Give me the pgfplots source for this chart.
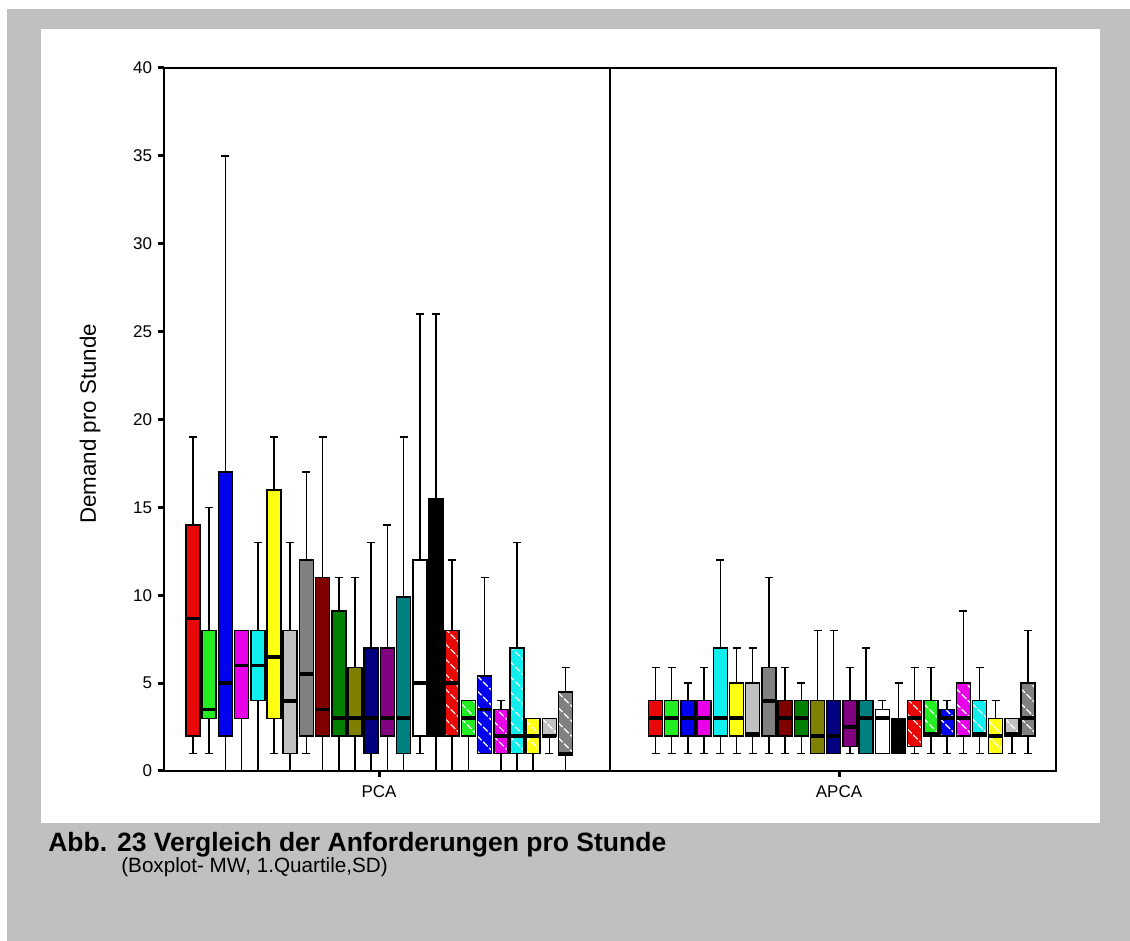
\documentclass[border=0pt]{standalone}
\usepackage{pgfplots}
\pgfplotsset{compat=1.18}
\usepgfplotslibrary{statistics}
\usepackage{fontspec}
\setmainfont{Liberation Sans}
\definecolor{bg}{HTML}{C0C0C0}
\definecolor{cred}{HTML}{E80808}
\definecolor{clime}{HTML}{22EE22}
\definecolor{cblue}{HTML}{0000EE}
\definecolor{cmag}{HTML}{E800E8}
\definecolor{ccyan}{HTML}{11EEEE}
\definecolor{cyel}{HTML}{FFFF11}
\definecolor{csil}{HTML}{C0C0C0}
\definecolor{cgray}{HTML}{808080}
\definecolor{cmar}{HTML}{800000}
\definecolor{cgreen}{HTML}{008000}
\definecolor{colive}{HTML}{808000}
\definecolor{cnavy}{HTML}{000080}
\definecolor{cpurp}{HTML}{800080}
\definecolor{cteal}{HTML}{008080}
\pgfplotsset{
  solidbox/.style={solid, draw=black, fill=#1},
  hatchbox/.style={solid, draw=black, fill=#1,
    boxplot/draw/box/.code={%
      \draw[/pgfplots/boxplot/every box/.try] (boxplot box cs:\pgfplotsboxplotvalue{lower quartile},0) rectangle (boxplot box cs:\pgfplotsboxplotvalue{upper quartile},1);
      \begin{scope}
        \clip (boxplot box cs:\pgfplotsboxplotvalue{lower quartile},0) rectangle (boxplot box cs:\pgfplotsboxplotvalue{upper quartile},1);
        \foreach \k in {0,...,16} {\path[draw=white, fill=none, line width=0.7pt, dash pattern=on 4pt off 1.2pt] ([xshift=-12pt,yshift=\k*9pt]boxplot box cs:\pgfplotsboxplotvalue{lower quartile},0.5) -- ++(24pt,-24pt);}
      \end{scope}
      \path[draw=black, fill=none, solid, line width=0.9pt] (boxplot box cs:\pgfplotsboxplotvalue{lower quartile},0) rectangle (boxplot box cs:\pgfplotsboxplotvalue{upper quartile},1);
    }},
}
\begin{document}
\begin{tikzpicture}
\fill[white] (0,0) rectangle (678pt,564.6pt);
\fill[bg] (4.2pt,0) rectangle (678pt,559.2pt);
\fill[white] (24.6pt,70.8pt) rectangle (660pt,547.2pt);
\begin{axis}[
  at={(98.4pt,102pt)}, anchor=south west,
  scale only axis, width=535.2pt, height=421.8pt,
  xmin=164, xmax=1056, ymin=0, ymax=40,
  ytick={0,5,...,40},
  xtick={379,839}, xticklabels={PCA,APCA},
  xtick pos=bottom, ytick pos=left,
  tick align=outside, major tick length=3.6pt,
  tick style={line width=1.8pt, black},
  axis line style={line width=0.9pt},
  tick label style={font=\fontsize{10.2}{12}\selectfont},
  xticklabel style={yshift=-1.8pt},
  /pgf/number format/assume math mode=true,
  extra x ticks={610}, extra x tick labels={},
  extra x tick style={grid=major, major grid style={line width=0.9pt, black}, major tick length=0pt},
  boxplot/draw direction=y,
  boxplot/box extend=14, boxplot/whisker extend=8,
  boxplot/every median/.style={solid, line width=2.2pt, draw=black},
  boxplot/every whisker/.style={solid, line width=0.9pt, draw=black},
  boxplot/every box/.style={solid, line width=0.9pt, draw=black},
]
% PCA  (lower whisker, lower quartile, median, upper quartile, upper whisker)
\addplot[solidbox=cred, boxplot prepared={draw position=193.0, lower whisker=1, lower quartile=2, median=8.67, upper quartile=14, upper whisker=19}] coordinates {};
\addplot[solidbox=clime, boxplot prepared={draw position=209.2, lower whisker=1, lower quartile=3, median=3.5, upper quartile=8, upper whisker=15}] coordinates {};
\addplot[solidbox=cblue, boxplot prepared={draw position=225.4, lower whisker=0, lower quartile=2, median=5, upper quartile=17, upper whisker=35}] coordinates {};
\addplot[solidbox=cmag, boxplot prepared={draw position=241.6, lower whisker=0, lower quartile=3, median=6, upper quartile=8, upper whisker=8}] coordinates {};
\addplot[solidbox=ccyan, boxplot prepared={draw position=257.8, lower whisker=0, lower quartile=4, median=6, upper quartile=8, upper whisker=13}] coordinates {};
\addplot[solidbox=cyel, boxplot prepared={draw position=274.0, lower whisker=1, lower quartile=3, median=6.5, upper quartile=16, upper whisker=19}] coordinates {};
\addplot[solidbox=csil, boxplot prepared={draw position=290.2, lower whisker=0, lower quartile=1, median=4, upper quartile=8, upper whisker=13}] coordinates {};
\addplot[solidbox=cgray, boxplot prepared={draw position=306.4, lower whisker=1, lower quartile=2, median=5.5, upper quartile=12, upper whisker=17}] coordinates {};
\addplot[solidbox=cmar, boxplot prepared={draw position=322.6, lower whisker=0, lower quartile=2, median=3.5, upper quartile=11, upper whisker=19}] coordinates {};
\addplot[solidbox=cgreen, boxplot prepared={draw position=338.8, lower whisker=0, lower quartile=2, median=3, upper quartile=9.1, upper whisker=11}] coordinates {};
\addplot[solidbox=colive, boxplot prepared={draw position=355.0, lower whisker=0, lower quartile=2, median=3, upper quartile=5.9, upper whisker=11}] coordinates {};
\addplot[solidbox=cnavy, boxplot prepared={draw position=371.2, lower whisker=0, lower quartile=1, median=3, upper quartile=7, upper whisker=13}] coordinates {};
\addplot[solidbox=cpurp, boxplot prepared={draw position=387.4, lower whisker=0, lower quartile=2, median=3, upper quartile=7, upper whisker=14}] coordinates {};
\addplot[solidbox=cteal, boxplot prepared={draw position=403.6, lower whisker=0, lower quartile=1, median=3, upper quartile=9.9, upper whisker=19}] coordinates {};
\addplot[solidbox=white, boxplot prepared={draw position=419.8, lower whisker=1, lower quartile=2, median=5, upper quartile=12, upper whisker=26}] coordinates {};
\addplot[solidbox=black, boxplot prepared={draw position=436.0, lower whisker=0, lower quartile=2, median=5, upper quartile=15.5, upper whisker=26}] coordinates {};
\addplot[hatchbox=cred, boxplot prepared={draw position=452.2, lower whisker=0, lower quartile=2, median=5, upper quartile=8, upper whisker=12}] coordinates {};
\addplot[hatchbox=clime, boxplot prepared={draw position=468.4, lower whisker=0, lower quartile=2, median=3, upper quartile=4, upper whisker=4}] coordinates {};
\addplot[hatchbox=cblue, boxplot prepared={draw position=484.6, lower whisker=1, lower quartile=1, median=3.5, upper quartile=5.4, upper whisker=11}] coordinates {};
\addplot[hatchbox=cmag, boxplot prepared={draw position=500.8, lower whisker=0, lower quartile=1, median=2, upper quartile=3.5, upper whisker=4}] coordinates {};
\addplot[hatchbox=ccyan, boxplot prepared={draw position=517.0, lower whisker=0, lower quartile=1, median=2, upper quartile=7, upper whisker=13}] coordinates {};
\addplot[hatchbox=cyel, boxplot prepared={draw position=533.2, lower whisker=0, lower quartile=1, median=2, upper quartile=3, upper whisker=3}] coordinates {};
\addplot[hatchbox=csil, boxplot prepared={draw position=549.4, lower whisker=1, lower quartile=2, median=2, upper quartile=3, upper whisker=3}] coordinates {};
\addplot[hatchbox=cgray, boxplot prepared={draw position=565.6, lower whisker=0, lower quartile=0.9, median=1, upper quartile=4.5, upper whisker=5.9}] coordinates {};
% APCA
\addplot[solidbox=cred, boxplot prepared={draw position=655.5, lower whisker=1, lower quartile=2, median=3, upper quartile=4, upper whisker=5.9}] coordinates {};
\addplot[solidbox=clime, boxplot prepared={draw position=671.7, lower whisker=1, lower quartile=2, median=3, upper quartile=4, upper whisker=5.9}] coordinates {};
\addplot[solidbox=cblue, boxplot prepared={draw position=687.9, lower whisker=1, lower quartile=2, median=3, upper quartile=4, upper whisker=5}] coordinates {};
\addplot[solidbox=cmag, boxplot prepared={draw position=704.1, lower whisker=1, lower quartile=2, median=3, upper quartile=4, upper whisker=5.9}] coordinates {};
\addplot[solidbox=ccyan, boxplot prepared={draw position=720.3, lower whisker=1, lower quartile=2, median=3, upper quartile=7, upper whisker=12}] coordinates {};
\addplot[solidbox=cyel, boxplot prepared={draw position=736.5, lower whisker=1, lower quartile=2, median=3, upper quartile=5, upper whisker=7}] coordinates {};
\addplot[solidbox=csil, boxplot prepared={draw position=752.7, lower whisker=1, lower quartile=2, median=2.1, upper quartile=5, upper whisker=7}] coordinates {};
\addplot[solidbox=cgray, boxplot prepared={draw position=768.9, lower whisker=1, lower quartile=2, median=4, upper quartile=5.9, upper whisker=11}] coordinates {};
\addplot[solidbox=cmar, boxplot prepared={draw position=785.1, lower whisker=1, lower quartile=2, median=3, upper quartile=4, upper whisker=5.9}] coordinates {};
\addplot[solidbox=cgreen, boxplot prepared={draw position=801.3, lower whisker=1, lower quartile=2, median=3, upper quartile=4, upper whisker=5}] coordinates {};
\addplot[solidbox=colive, boxplot prepared={draw position=817.5, lower whisker=1, lower quartile=1, median=2, upper quartile=4, upper whisker=8}] coordinates {};
\addplot[solidbox=cnavy, boxplot prepared={draw position=833.7, lower whisker=1, lower quartile=1, median=2, upper quartile=4, upper whisker=8}] coordinates {};
\addplot[solidbox=cpurp, boxplot prepared={draw position=849.9, lower whisker=1, lower quartile=1.4, median=2.5, upper quartile=4, upper whisker=5.9}] coordinates {};
\addplot[solidbox=cteal, boxplot prepared={draw position=866.1, lower whisker=1, lower quartile=1, median=3, upper quartile=4, upper whisker=7}] coordinates {};
\addplot[solidbox=white, boxplot prepared={draw position=882.3, lower whisker=1, lower quartile=1, median=3, upper quartile=3.5, upper whisker=4}] coordinates {};
\addplot[solidbox=black, boxplot prepared={draw position=898.5, lower whisker=1, lower quartile=1, median=2, upper quartile=3, upper whisker=5}] coordinates {};
\addplot[hatchbox=cred, boxplot prepared={draw position=914.7, lower whisker=1, lower quartile=1.4, median=3, upper quartile=4, upper whisker=5.9}] coordinates {};
\addplot[hatchbox=clime, boxplot prepared={draw position=930.9, lower whisker=1, lower quartile=2, median=2.1, upper quartile=4, upper whisker=5.9}] coordinates {};
\addplot[hatchbox=cblue, boxplot prepared={draw position=947.1, lower whisker=1, lower quartile=2, median=3, upper quartile=3.5, upper whisker=4}] coordinates {};
\addplot[hatchbox=cmag, boxplot prepared={draw position=963.3, lower whisker=1, lower quartile=2, median=3, upper quartile=5, upper whisker=9.1}] coordinates {};
\addplot[hatchbox=ccyan, boxplot prepared={draw position=979.5, lower whisker=1, lower quartile=2, median=2.1, upper quartile=4, upper whisker=5.9}] coordinates {};
\addplot[hatchbox=cyel, boxplot prepared={draw position=995.7, lower whisker=1, lower quartile=1, median=2, upper quartile=3, upper whisker=4}] coordinates {};
\addplot[hatchbox=csil, boxplot prepared={draw position=1011.9, lower whisker=1, lower quartile=2, median=2.1, upper quartile=3, upper whisker=3}] coordinates {};
\addplot[hatchbox=cgray, boxplot prepared={draw position=1028.1, lower whisker=1, lower quartile=2, median=3, upper quartile=5, upper whisker=8}] coordinates {};
\end{axis}
\node[rotate=90, font=\fontsize{13.4}{16}\selectfont] at (54pt,310.2pt) {Demand pro Stunde};
\node[anchor=base west, inner sep=0pt, font=\bfseries\fontsize{15.9}{18}\selectfont] at (28.8pt,53.4pt) {Abb. 23 Vergleich der Anforderungen pro Stunde};
\node[anchor=base west, inner sep=0pt, font=\fontsize{12.4}{15}\selectfont] at (72.6pt,40.8pt) {(Boxplot- MW, 1.Quartile,SD)};
\end{tikzpicture}
\end{document}
